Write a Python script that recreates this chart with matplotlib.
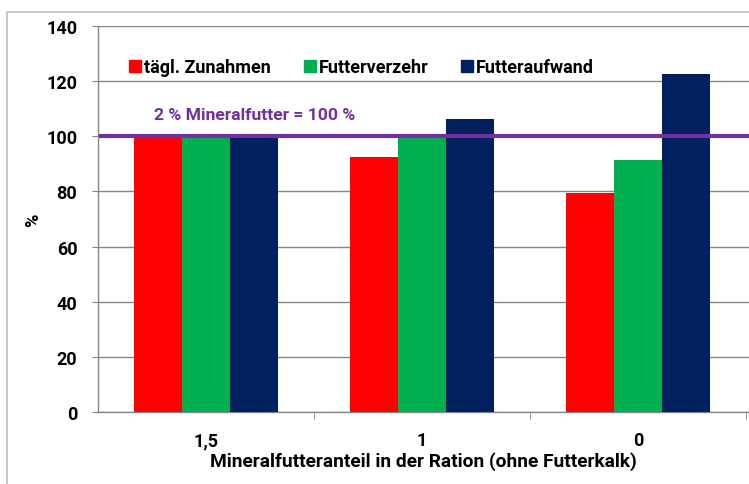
import matplotlib
matplotlib.use("Agg")
import matplotlib.pyplot as plt
from matplotlib.lines import Line2D
from matplotlib.patches import Rectangle
import numpy as np

plt.rcParams['font.family'] = ['Roboto', 'DejaVu Sans']
plt.rcParams['font.weight'] = 'bold'

categories = ["1,5", "1", "0"]
series_names = ["tägl. Zunahmen", "Futterverzehr", "Futteraufwand"]
zunahmen = [100, 92.5, 79.5]
verzehr = [100, 100, 91.3]
aufwand = [100, 106.3, 122.5]
colors = ["#FF0000", "#00B050", "#002060"]
ref_value = 100
ref_label = "2 % Mineralfutter = 100 %"
yticks = [0, 20, 40, 60, 80, 100, 120, 140]

fig = plt.figure(figsize=(7.49, 4.85), dpi=100)
ax = fig.add_axes([97.5/749, 1-413/485, (749-97.5)/749, (413-27)/485])

x = np.arange(len(categories))
w = 0.222
for i, (vals, c, name) in enumerate(zip([zunahmen, verzehr, aufwand], colors, series_names)):
    ax.bar(x + (i-1)*w, vals, width=w, color=c, zorder=3, label=name)

ax.set_xlim(-0.5, 2.5 + 0.013)
ax.set_ylim(0, 140)
ax.set_yticks(yticks)
ax.set_yticklabels([str(v) for v in yticks], fontsize=13, fontweight='bold')
ax.yaxis.grid(True, color='#868686', linewidth=1, zorder=0)
ax.set_axisbelow(True)

ax.set_xticks(x)
ax.set_xticklabels(categories, fontsize=13, fontweight='bold')
ax.set_xticks([0.5, 1.5, 2.5], minor=True)
ax.tick_params(axis='x', which='major', length=0, pad=14)
ax.tick_params(axis='x', which='minor', length=5, color='#868686', direction='out')
ax.tick_params(axis='y', length=4.5, color='#868686', pad=10)

for s in ['top', 'right']:
    ax.spines[s].set_visible(False)
for s in ['left', 'bottom']:
    ax.spines[s].set_color('#868686')
    ax.spines[s].set_linewidth(1)

ax.axhline(ref_value, xmin=0.005, xmax=1, color='#7030A0', linewidth=3, zorder=4)
ax.text(-0.238, 107.8, ref_label, color='#7030A0', fontsize=12.6, fontweight='bold',
        va='center', ha='left')

ax.set_ylabel("%", fontsize=13, fontweight='bold', labelpad=3)
ax.set_xlabel("Mineralfutteranteil in der Ration (ohne Futterkalk)", fontsize=13.8,
              fontweight='bold', labelpad=1)

handles = [Line2D([], [], marker='s', linestyle='none', markersize=8, color=c) for c in colors]
ax.legend(handles, series_names, loc='center left', bbox_to_anchor=(0.022, 0.894),
          ncol=3, frameon=False, handlelength=0.8, handletextpad=0.07, columnspacing=1.78,
          prop={'weight': 'bold', 'size': 13})

fig.patches.append(Rectangle((7/749, -0.01), 1.0, 1-13/485 + 0.01, transform=fig.transFigure,
                             fill=False, edgecolor='#BFBFBF', linewidth=1.2))

fig.savefig("out.png", dpi=100)
